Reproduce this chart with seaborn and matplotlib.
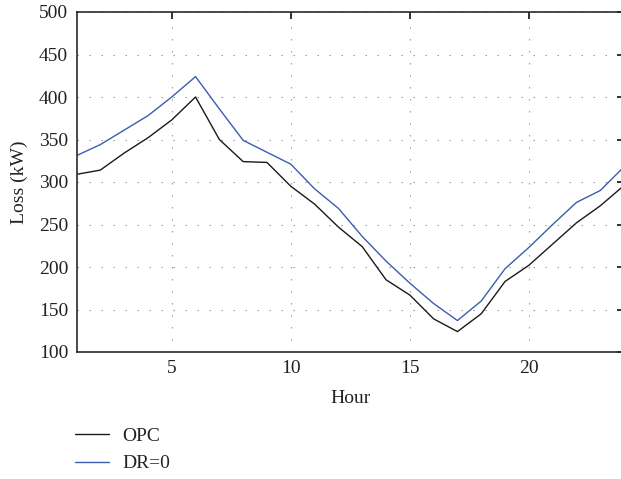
import matplotlib
matplotlib.use("Agg")
import matplotlib.pyplot as plt
import seaborn as sns
import pandas as pd

hours = list(range(1, 25))
opc = [309, 314, 334, 352, 373, 400, 350, 324, 323, 295, 274, 247, 224, 185, 167,
       139, 124, 145, 183, 202, 227, 252, 272, 296]
dr0 = [331, 344, 361, 378, 400, 424, 386, 349, 335, 321, 292, 269, 236, 207, 181,
       157, 137, 160, 198, 223, 250, 276, 290, 318]
series_names = ["OPC", "DR=0"]
series_colors = ["#1a1a1a", "#3a5dae"]

df = pd.DataFrame({"Hour": hours * 2,
                   "Loss": opc + dr0,
                   "Series": [series_names[0]] * 24 + [series_names[1]] * 24})

sns.set_style("white")
plt.rcParams["font.family"] = ["Liberation Serif", "DejaVu Serif"]

fig = plt.figure(figsize=(6.21, 4.79), dpi=100)
ax = fig.add_axes([76.5 / 621, 1 - 352 / 479, (621 - 76.5) / 621 + 0.005, (352 - 12) / 479])

sns.lineplot(data=df, x="Hour", y="Loss", hue="Series", palette=series_colors,
             linewidth=1.0, ax=ax, legend=False)

ax.set_xlim(1, 24)
ax.set_ylim(100, 500)
ax.set_xticks([5, 10, 15, 20])
ax.set_yticks(range(100, 501, 50))
ax.grid(True, linestyle=(0, (1.3, 9.5)), color="#999999", linewidth=0.8)
ax.tick_params(direction="in", top=True, right=True, length=5, width=1.3,
               labelsize=14, color="#222222", labelcolor="#222222", pad=6)
for s in ax.spines.values():
    s.set_color("#2a2a2a")
    s.set_linewidth(1.2)
ax.set_xlabel("Hour", fontsize=14, color="#222222", labelpad=9)
ax.set_ylabel("Loss (kW)", fontsize=14, color="#222222", labelpad=8)

handles = [plt.Line2D([], [], color=c, linewidth=1.0) for c in series_colors]
fig.legend(handles, series_names, loc="upper left", bbox_to_anchor=(57 / 621, 1 - 410 / 479),
           frameon=False, fontsize=14, handlelength=1.75, handletextpad=0.7,
           labelspacing=0.5, labelcolor="#222222")

fig.savefig("out.png", dpi=100)
